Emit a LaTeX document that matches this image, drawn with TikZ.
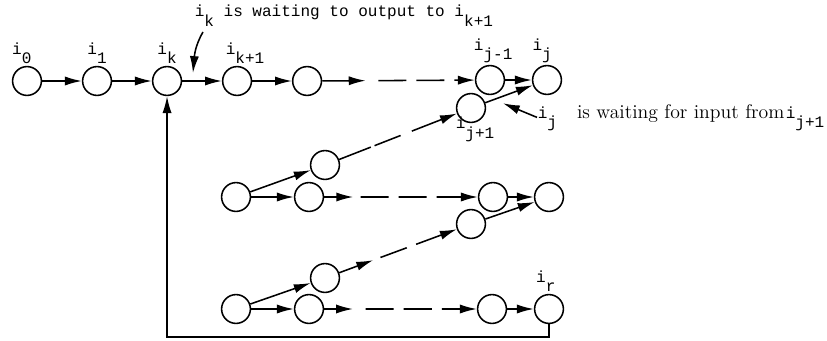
\documentclass[tikz,border=0pt]{standalone}
\usepackage{fontspec}
\setmonofont{Liberation Mono}
\usetikzlibrary{arrows.meta, calc}
\newcommand{\isub}[2]{#1\raisebox{-1.1ex}{#2}}

\begin{document}
\begin{tikzpicture}[
    x=0.025cm, y=-0.025cm, ->, >={Latex[length=12pt, width=6.5pt]}, line width=1.1pt,
    node distance=1.75cm,
    proc/.style={circle, draw, minimum size=0.72cm, inner sep=0pt},
    every label/.style={inner sep=1pt, font=\fontsize{11.4}{13}\ttfamily},
    note/.style={font=\fontsize{11.4}{13}\ttfamily, inner sep=0pt},
    gapline/.style={dash pattern=on 0.7cm off 0.25cm}
]
\useasboundingbox (0,0) rectangle (827,341);

\node (i0) [proc, label={[xshift=-0.13cm]above:\isub{i}{0}}] at (27,81) {};
\node (i1) [proc, right of=i0, label=above:\isub{i}{1}] {};
\node (ik) [proc, right of=i1, label=above:\isub{i}{k}] {};
\node (ik1) [proc, right of=ik, label={[xshift=0.2cm]above:\isub{i}{k+1}}] {};
\node (a4) [proc, right of=ik1] {};
\node (ijm) [proc, label={[xshift=0.08cm]above:\isub{i}{j-1}}] at (490,80) {};
\node (ij) [proc, label={[xshift=-0.12cm]above:\isub{i}{j}}] at (547,80) {};
\node (ijp) [proc, label={[xshift=0.1cm, yshift=0.2cm]below:\isub{i}{j+1}}] at (471,108) {};

\node (b1) [proc] at (325,165) {};
\node (c0) [proc] at (236,197) {};
\node (c1) [proc] at (309,197) {};
\node (c2) [proc] at (493,197) {};
\node (c3) [proc] at (549,197) {};
\node (d1) [proc] at (471,224) {};
\node (e1) [proc] at (325,278) {};
\node (f0) [proc] at (236,309) {};
\node (f1) [proc] at (309,309) {};
\node (f2) [proc] at (492,309) {};
\node (ir) [proc, label={[xshift=-0.08cm]above:\isub{i}{r}}] at (549,309) {};

\node (outnote) [note, anchor=base west] at (194,17) {\isub{i}{k} is waiting to output to \isub{i}{k+1}};
\node (innote) [note, anchor=base west] at (537,118) {\isub{i}{j}\hspace{0.5cm}{\rmfamily\fontsize{14}{16}\selectfont\addfontfeature{LetterSpace=18}is waiting for input from}\hspace{1pt}\isub{i}{j+1}};
\coordinate (kfrom) at (203,32);
\coordinate (kwait) at ($(ik)!0.37!(ik1) + (0,-8)$);
\coordinate (jwait) at ($(ijp)!0.42!(ij) + (0,7)$);

\draw (i0) -- (i1);
\draw (i1) -- (ik);
\draw (ik) -- (ik1);
\draw (ik1) -- (a4);
\draw (a4) -- ($(a4)!0.32!(ijm)$);
\draw[gapline] ($(a4)!0.39!(ijm)$) -- (ijm);
\draw (ijm) -- (ij);
\draw (ijp) -- (ij);
\draw[dash pattern=on 0.85cm off 0.1cm on 0.7cm off 0.3cm on 2cm] (b1) -- (ijp);

\draw (c0) -- (b1);
\draw (c0) -- (c1);
\draw (c1) -- ($(c1)!0.24!(c2)$);
\draw[gapline] ($(c1)!0.28!(c2)$) -- (c2);
\draw (c2) -- (c3);
\draw (d1) -- (c3);
\draw (e1) -- ($(e1)!0.33!(d1)$);
\draw[gapline] ($(e1)!0.38!(d1)$) -- (d1);

\draw (f0) -- (e1);
\draw (f0) -- (f1);
\draw (f1) -- ($(f1)!0.24!(f2)$);
\draw[gapline] ($(f1)!0.31!(f2)$) -- (f2);
\draw (f2) -- (ir);
\draw (ir.south) -- ++(0,13) -| (ik.south);

\draw (kfrom) to[out=-120, in=85] (kwait);
\draw (innote.west) -- (jwait);
\end{tikzpicture}
\end{document}
